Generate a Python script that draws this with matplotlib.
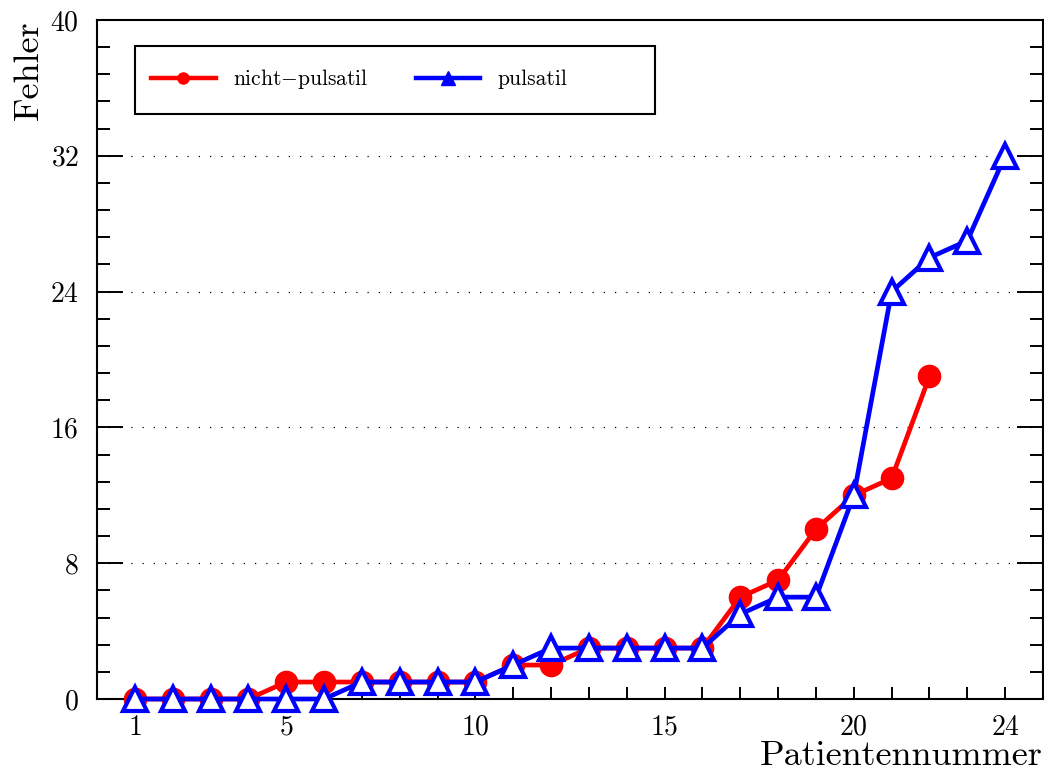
import numpy as np
import matplotlib
matplotlib.use('Agg')
import matplotlib.pyplot as plt
from matplotlib.lines import Line2D
from matplotlib.patches import Rectangle
from matplotlib.ticker import FixedLocator, MultipleLocator

plt.rcParams['font.family'] = ['cmr10', 'DejaVu Serif']
plt.rcParams['mathtext.fontset'] = 'cm'
plt.rcParams['axes.formatter.use_mathtext'] = True

# error counts per patient, sorted ascending
patients_np = np.arange(1, 23)
errors_np = [0, 0, 0, 0, 1, 1, 1, 1, 1, 1, 2, 2, 3, 3, 3, 3, 6, 7, 10, 12, 13, 19]
patients_p = np.arange(1, 25)
errors_p = [0, 0, 0, 0, 0, 0, 1, 1, 1, 1, 2, 3, 3, 3, 3, 3, 5, 6, 6, 12, 24, 26, 27, 32]

x_major = [1, 5, 10, 15, 20, 24]
y_major = [0, 8, 16, 24, 32, 40]

RED = '#ff0000'
BLUE = '#0000ff'

fig = plt.figure(figsize=(10.44, 7.76), dpi=100)
ax = fig.add_axes([97 / 1044, 1 - 699 / 776, 946 / 1044, 679 / 776])

ax.plot(patients_np, errors_np, color=RED, lw=3.4, marker='o', ms=16,
        mfc=RED, mec=RED, zorder=3, clip_on=False)
ax.plot(patients_p, errors_p, color=BLUE, lw=3.4, marker='^', ms=17,
        mfc='white', mec=BLUE, mew=3.0, zorder=4, clip_on=False)

ax.set_xlim(0, 25)
ax.set_ylim(0, 40)
ax.xaxis.set_major_locator(FixedLocator(x_major))
ax.xaxis.set_minor_locator(MultipleLocator(1))
ax.yaxis.set_major_locator(FixedLocator(y_major))
ax.yaxis.set_minor_locator(MultipleLocator(1.6))

ax.tick_params(axis='both', which='both', direction='in', labelsize=20,
               width=1.4, color='black')
ax.tick_params(axis='x', which='both', length=9, pad=11, top=False, bottom=True)
ax.tick_params(axis='y', which='major', length=19, pad=13, left=True, right=True)
ax.tick_params(axis='y', which='minor', length=9.5, left=True, right=True)

for s in ax.spines.values():
    s.set_linewidth(1.5)

for y in y_major[1:-1]:
    ax.axhline(y, color='black', lw=0.9, ls=(0, (1, 8)), zorder=1)

ax.set_xlabel('Patientennummer', fontsize=26, loc='right', labelpad=0)
ax.set_ylabel('Fehler', fontsize=26, loc='top', labelpad=4)

# legend frame drawn separately so the entries stay packed to the left
ax.add_patch(Rectangle((0.040, 0.862), 0.550, 0.100, transform=ax.transAxes,
                       fill=True, facecolor='white', edgecolor='black',
                       lw=1.5, zorder=5))
handles = [
    Line2D([0], [0], color=RED, lw=3.2, marker='o', ms=8, label=r'nicht$-$pulsatil'),
    Line2D([0], [0], color=BLUE, lw=3.2, marker='^', ms=9.5, label='pulsatil'),
]
leg = ax.legend(handles=handles, loc='center left', ncol=2,
                bbox_to_anchor=(0.057, 0.913), fontsize=15.5,
                frameon=False, borderaxespad=0, borderpad=0,
                handlelength=3.0, handletextpad=0.8, columnspacing=2.2)
leg.set_zorder(6)

fig.savefig('out.png', dpi=100)
